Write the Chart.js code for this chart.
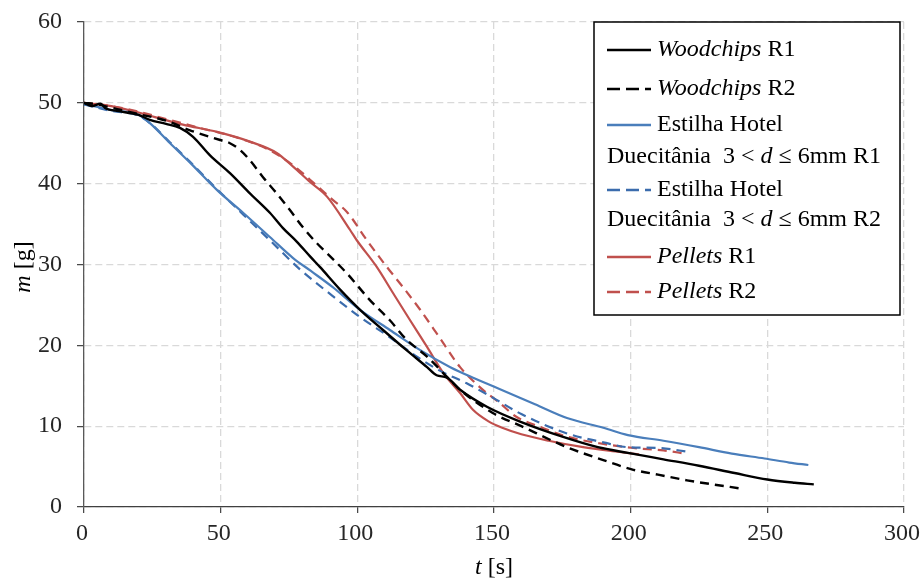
<!DOCTYPE html>
<html>
<head>
<meta charset="utf-8">
<script src="https://cdn.jsdelivr.net/npm/chart.js@4.4.1/dist/chart.umd.min.js"></script>
<style>
  html, body { margin: 0; padding: 0; background: #fff; }
  #wrap { width: 920px; height: 581px; }
</style>
</head>
<body>
<div id="wrap"><canvas id="myChart" width="920" height="581"></canvas></div>
<script>
// mass loss curves, t in seconds, m in grams
var woodR1T = [0, 3, 6, 8, 12, 20, 24.1, 30, 35.1, 39.9, 46.1, 53.4, 60.7, 68, 72.8, 77.9, 82.7, 86.3, 93.7, 101, 109.4, 118, 125.5, 129, 132.8, 137.6, 147.4, 160, 175, 188, 199, 212, 225, 238, 250, 260, 267];
var woodR1M = [50, 49.6, 49.9, 49.3, 49.0, 48.5, 47.9, 47.4, 46.9, 45.8, 43.5, 41.3, 38.8, 36.4, 34.5, 32.8, 31.0, 29.7, 26.9, 24.4, 21.9, 19.4, 17.3, 16.3, 16.0, 14.5, 12.4, 10.5, 8.7, 7.4, 6.7, 5.9, 5.1, 4.2, 3.4, 3.0, 2.8];

var woodR2T = [0, 5, 10, 20, 30, 38.8, 49.8, 53.4, 57, 60.7, 65.5, 70.5, 75.4, 80.1, 85, 90.7, 96.2, 104.6, 111.9, 118, 125.5, 132.8, 137.6, 149.7, 160, 176.7, 190, 201, 210, 220.6, 230, 240];
var woodR2M = [50, 49.8, 49.4, 48.6, 47.8, 46.6, 45.4, 45.0, 44.2, 42.9, 40.8, 38.8, 36.7, 34.6, 32.7, 30.8, 28.9, 25.6, 23.1, 20.7, 18.6, 16.1, 14.5, 11.6, 10.0, 7.4, 5.8, 4.6, 4.0, 3.3, 2.8, 2.3];

var estR1T = [0, 5, 10, 20, 24.1, 31.5, 38.8, 48.7, 58.2, 68, 76.5, 83, 91, 101, 111.9, 123, 134, 143, 152, 165, 176.7, 190, 199, 212, 225, 237, 249, 258, 265];
var estR1M = [49.8, 49.5, 49.1, 48.5, 47.5, 45.0, 42.6, 39.2, 36.4, 33.4, 30.8, 29.2, 27.2, 24.4, 21.9, 19.4, 17.3, 15.9, 14.6, 12.7, 11.0, 9.8, 8.9, 8.2, 7.4, 6.6, 6.0, 5.5, 5.2];

var estR2T = [0, 10, 20, 24.1, 31.5, 38.8, 48.7, 58.2, 68, 79, 91, 101, 111.9, 121.8, 130, 140, 149.7, 160, 176.7, 190, 199, 210, 221.7];
var estR2M = [49.8, 49.0, 48.4, 47.5, 45.1, 42.7, 39.3, 36.2, 33.0, 29.4, 26.1, 23.5, 21.0, 18.6, 16.9, 15.3, 13.5, 11.5, 9.1, 8.0, 7.4, 7.3, 6.8];

var pelR1T = [0, 10, 20, 24.1, 36.2, 48.7, 60.7, 70.5, 76.5, 82.7, 88.9, 97.3, 99.8, 107.1, 113, 119.3, 125.5, 131.4, 137.6, 142.4, 148, 153, 160, 170, 182.6, 196, 203];
var pelR1M = [50, 49.6, 48.8, 48.4, 47.3, 46.4, 45.2, 43.8, 42.1, 40.2, 38.4, 34.3, 33.0, 29.7, 26.5, 23.1, 19.8, 16.6, 14.1, 12.0, 10.6, 9.8, 9.0, 8.2, 7.4, 6.8, 6.5];

var pelR2T = [0, 10, 20, 30, 42.4, 55, 67, 76, 85, 91, 96.2, 103.5, 110.8, 116.7, 123, 130, 137.6, 144.9, 152, 158, 167, 176.7, 190, 201, 212, 220];
var pelR2M = [50, 49.6, 48.9, 48.0, 46.9, 45.8, 44.3, 42.4, 39.8, 38.0, 36.5, 33.0, 29.7, 27.2, 24.4, 21.0, 17.3, 14.8, 12.9, 11.2, 9.9, 8.7, 7.8, 7.3, 7.0, 6.6];

var xTicks = [0, 50, 100, 150, 200, 250, 300];
var yTicks = [0, 10, 20, 30, 40, 50, 60];

// legend text pieces: [text, italic]
var legendLabels = [
  [[['Woodchips', true], [' R1', false]]],
  [[['Woodchips', true], [' R2', false]]],
  [[['Estilha Hotel', false]], [['Duecitânia  3 < ', false], ['d', true], [' ≤ 6mm R1', false]]],
  [[['Estilha Hotel', false]], [['Duecitânia  3 < ', false], ['d', true], [' ≤ 6mm R2', false]]],
  [[['Pellets', true], [' R1', false]]],
  [[['Pellets', true], [' R2', false]]]
];

var BLACK = '#000000';
var BLUE = '#4a7ebb';
var BLUE2 = '#3b6cad';
var RED = '#c0504d';
var SERIF = "'Liberation Serif', 'Times New Roman', serif";
var FS = 24;

function pts(t, m) {
  return t.map(function (v, i) { return { x: v, y: m[i] }; });
}

function line(data, color, dashed, width) {
  return {
    data: data,
    borderColor: color,
    backgroundColor: color,
    borderWidth: width,
    borderDash: dashed ? [9, 6] : [],
    pointRadius: 0,
    fill: false,
    cubicInterpolationMode: 'monotone'
  };
}

function drawRich(ctx, parts, x, y) {
  parts.forEach(function (p) {
    ctx.font = (p[1] ? 'italic ' : '') + FS + 'px ' + SERIF;
    ctx.fillText(p[0], x, y);
    x += ctx.measureText(p[0]).width;
  });
  return x;
}

function richWidth(ctx, parts) {
  var w = 0;
  parts.forEach(function (p) {
    ctx.font = (p[1] ? 'italic ' : '') + FS + 'px ' + SERIF;
    w += ctx.measureText(p[0]).width;
  });
  return w;
}

// legend box and axis titles with mixed italic text
var annotate = {
  id: 'annotate',
  afterDraw: function (chart) {
    var ctx = chart.ctx;
    var area = chart.chartArea;
    var sets = chart.data.datasets;
    ctx.save();
    ctx.textBaseline = 'middle';

    // legend
    var bx = 594, by = 22, bw = 306, bh = 293;
    ctx.fillStyle = '#fff';
    ctx.fillRect(bx, by, bw, bh);
    ctx.strokeStyle = '#000';
    ctx.lineWidth = 1.5;
    ctx.strokeRect(bx, by, bw, bh);
    var rows = [[28], [67], [103, 135], [168, 198], [235], [270]];
    sets.forEach(function (ds, i) {
      var yy = by + rows[i][0];
      ctx.beginPath();
      ctx.strokeStyle = ds.borderColor;
      ctx.lineWidth = 2.6;
      ctx.setLineDash(ds.borderDash.length ? [13, 6] : []);
      ctx.moveTo(bx + 13, yy);
      ctx.lineTo(bx + 57, yy);
      ctx.stroke();
      ctx.setLineDash([]);
      ctx.fillStyle = '#000';
      ctx.textAlign = 'left';
      drawRich(ctx, legendLabels[i][0], bx + 63, yy);
      if (legendLabels[i][1]) {
        drawRich(ctx, legendLabels[i][1], bx + 13, by + rows[i][1]);
      }
    });

    // x title
    var xt = [['t', true], [' [s]', false]];
    var xw = richWidth(ctx, xt);
    ctx.fillStyle = '#000';
    drawRich(ctx, xt, (area.left + area.right) / 2 - xw / 2, 568);

    // y title
    var yt = [['m', true], [' [g]', false]];
    var yw = richWidth(ctx, yt);
    ctx.translate(24, 267);
    ctx.rotate(-Math.PI / 2);
    drawRich(ctx, yt, -yw / 2, 0);
    ctx.restore();
  }
};

var ctx = document.getElementById('myChart').getContext('2d');
var myChart = new Chart(ctx, {
  type: 'line',
  data: {
    datasets: [
      line(pts(woodR1T, woodR1M), BLACK, false, 2.4),
      line(pts(woodR2T, woodR2M), BLACK, true, 2.4),
      line(pts(estR1T, estR1M), BLUE, false, 2.2),
      line(pts(estR2T, estR2M), BLUE2, true, 2.2),
      line(pts(pelR1T, pelR1M), RED, false, 2.2),
      line(pts(pelR2T, pelR2M), RED, true, 2.2)
    ]
  },
  options: {
    responsive: false,
    animation: false,
    layout: { padding: { left: 0, right: 16, top: 22, bottom: 0 } },
    plugins: {
      legend: { display: false },
      tooltip: { enabled: false }
    },
    scales: {
      x: {
        type: 'linear',
        min: 0,
        max: 300,
        afterBuildTicks: function (scale) {
          scale.ticks = xTicks.map(function (v) { return { value: v }; });
        },
        afterFit: function (scale) {
          scale.height = 74;
          scale.paddingLeft = 0;
          scale.paddingRight = 0;
        },
        ticks: {
          font: { family: SERIF, size: FS },
          color: '#262626',
          padding: 6,
          labelOffset: -2,
          maxRotation: 0
        },
        grid: {
          color: '#d9d9d9',
          lineWidth: 1.3,
          tickColor: '#404040',
          tickLength: 6,
          tickBorderDash: [],
          tickWidth: 1.2
        },
        border: { color: '#404040', width: 1.3, dash: [7, 4] }
      },
      y: {
        min: 0,
        max: 60,
        afterBuildTicks: function (scale) {
          scale.ticks = yTicks.map(function (v) { return { value: v }; });
        },
        afterFit: function (scale) {
          scale.width = 84;
          scale.paddingTop = 0;
          scale.paddingBottom = 0;
        },
        ticks: {
          font: { family: SERIF, size: FS },
          color: '#262626',
          padding: 15
        },
        grid: {
          color: '#d9d9d9',
          lineWidth: 1.3,
          tickColor: '#404040',
          tickLength: 7,
          tickBorderDash: [],
          tickWidth: 1.2
        },
        border: { color: '#595959', width: 1.3, dash: [7, 4] }
      }
    }
  },
  plugins: [annotate]
});
</script>
</body>
</html>
